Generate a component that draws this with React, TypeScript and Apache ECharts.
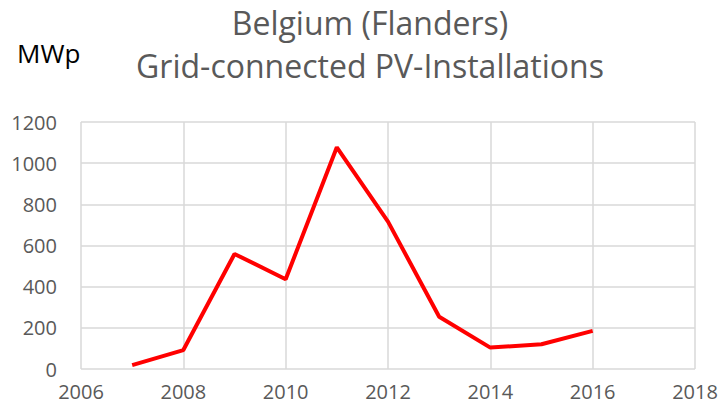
import React, { useEffect, useRef } from "react";
import * as echarts from "echarts";

const years = [2007, 2008, 2009, 2010, 2011, 2012, 2013, 2014, 2015, 2016];
const mwp = [19, 92, 559, 436, 1077, 716, 254, 104, 120, 185];
const titleLines = ["Belgium (Flanders)", "Grid-connected PV-Installations"];
const unitLabel = "MWp";

export default function App() {
  const ref = useRef<HTMLDivElement>(null);
  useEffect(() => {
    if (!ref.current) return;
    const chart = echarts.init(ref.current, undefined, { renderer: "svg" });
    const font = "'Open Sans', 'Liberation Sans', sans-serif";
    chart.setOption({
      animation: false,
      backgroundColor: "#fff",
      title: {
        text: titleLines.join("\n"),
        left: 370,
        textAlign: "center",
        top: 1,
        padding: 0,
        textStyle: { fontFamily: font, fontSize: 32, fontWeight: "normal", color: "#595959", lineHeight: 43 },
      },
      graphic: [
        {
          type: "text",
          left: 17,
          top: 40,
          style: { text: unitLabel, fontFamily: font, fontSize: 26, fill: "#000" },
        },
      ],
      grid: { left: 81, right: 28, top: 122, bottom: 47, containLabel: false },
      xAxis: {
        type: "value",
        min: 2006,
        max: 2018,
        interval: 2,
        axisLine: { show: false },
        axisTick: { show: false },
        splitLine: { show: true, lineStyle: { color: "#d9d9d9", width: 1.5 } },
        axisLabel: { fontFamily: font, fontSize: 20, color: "#595959", margin: 12, formatter: (v: number) => String(v) },
      },
      yAxis: {
        type: "value",
        min: 0,
        max: 1200,
        interval: 200,
        axisLine: { show: false },
        axisTick: { show: false },
        splitLine: { show: true, lineStyle: { color: "#d9d9d9", width: 1.5 } },
        axisLabel: { fontFamily: font, fontSize: 20, color: "#595959", margin: 24, formatter: (v: number) => String(v) },
      },
      series: [
        {
          type: "line",
          data: years.map((y, i) => [y, mwp[i]]),
          showSymbol: false,
          symbol: "none",
          lineStyle: { color: "#ff0000", width: 4 },
        },
      ],
    });
    return () => chart.dispose();
  }, []);
  return <div ref={ref} style={{ width: 723, height: 416, position: "fixed", left: 0, top: 0 }} />;
}
